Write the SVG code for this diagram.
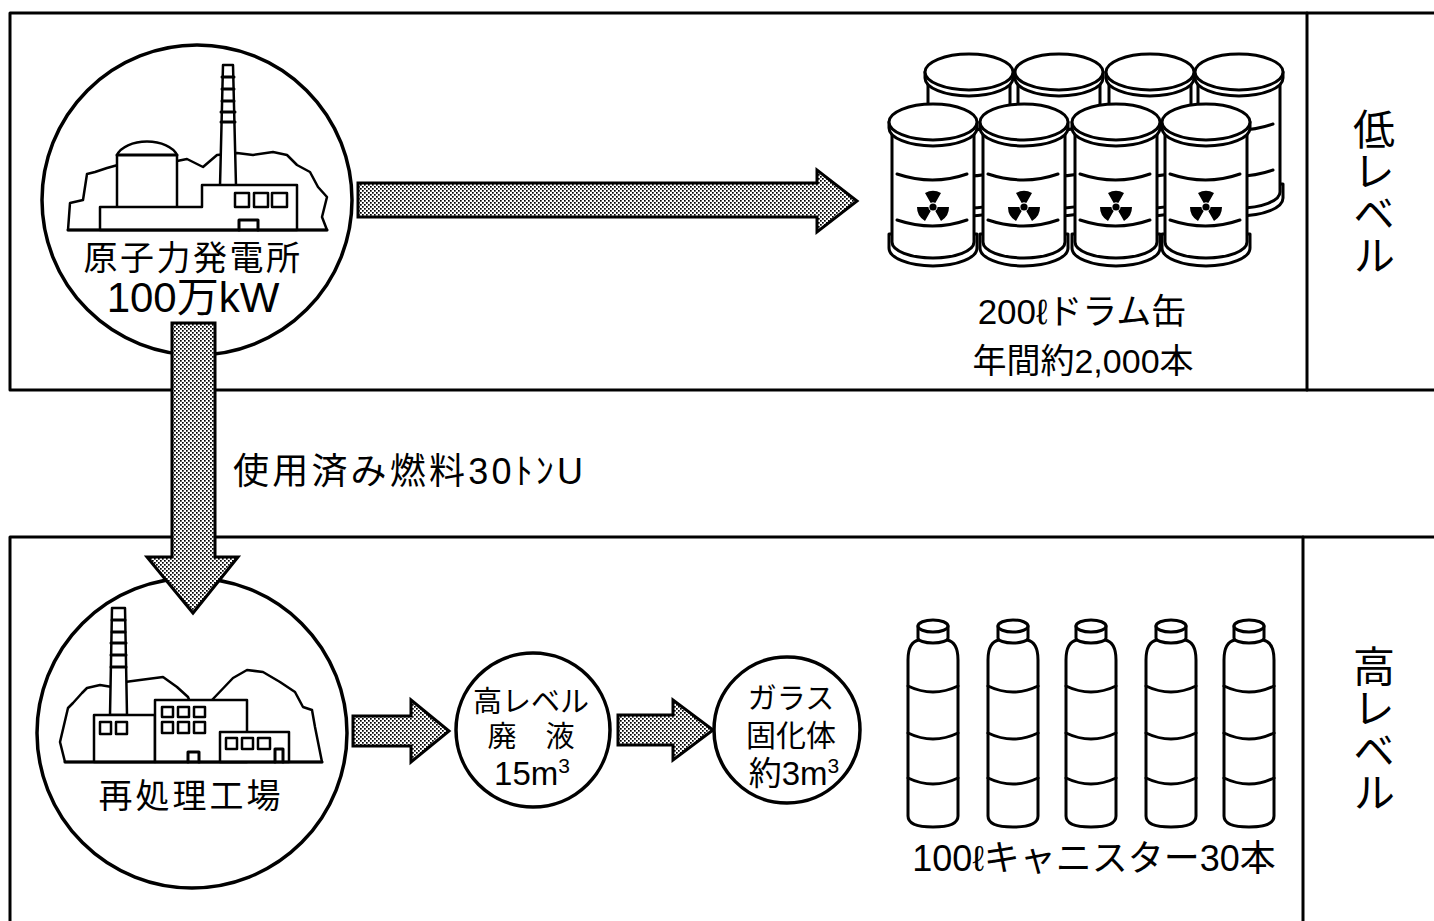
<svg xmlns="http://www.w3.org/2000/svg" width="1434" height="921" viewBox="0 0 1434 921">
  <defs>
    <style>
      .ln { fill: none; stroke: #000; stroke-width: 3; stroke-linejoin: round; stroke-linecap: round; }
      .wf { fill: #fff; stroke: #000; stroke-width: 3; stroke-linejoin: round; }
      .thin { fill: #fff; stroke: #000; stroke-width: 2.5; stroke-linejoin: round; }
      .arrow { fill: url(#dots); stroke: #000; stroke-width: 3; stroke-linejoin: miter; }
      .ring { fill: #fff; stroke: #000; stroke-width: 3.5; }
      .t { font-family: "Liberation Sans", "Noto Sans CJK JP", sans-serif; fill: #000; }
      .vt { font-family: "Noto Sans CJK JP", sans-serif; fill: #000; font-size: 42px; writing-mode: vertical-rl; }
    </style>
    <!-- stipple fill for the flow arrows -->
    <pattern id="dots" width="4" height="4" patternUnits="userSpaceOnUse">
      <rect width="4" height="4" fill="#fff"/>
      <rect x="0" y="0" width="1.7" height="1.7" fill="#000"/>
      <rect x="2" y="2" width="1.7" height="1.7" fill="#000"/>
    </pattern>
    <!-- 200 l drum, origin at the centre of the lid -->
    <g id="drum">
      <path class="wf" d="M-44,112 V126 A44,18 0 0 0 44,126 V112 Z"/>
      <path class="wf" d="M-41,6 V120 A41,16 0 0 0 41,120 V6 Z"/>
      <path class="ln" d="M-36,52 Q0,64 34,52"/>
      <path class="ln" d="M-36,98 Q0,110 34,98"/>
      <path class="wf" d="M-44,0 V6 A44,18 0 0 0 44,6 V0 Z"/>
      <ellipse class="wf" cx="0" cy="0" rx="44" ry="18"/>
    </g>
    <!-- radiation trefoil -->
    <g id="trefoil" fill="#000">
      <path d="M-8,-14 A16,16 0 0 1 8,-14 L2.3,-4 A4.6,4.6 0 0 0 -2.3,-4 Z"/>
      <path d="M16,0 A16,16 0 0 1 8,14 L2.3,4 A4.6,4.6 0 0 0 4.6,0 Z"/>
      <path d="M-8,14 A16,16 0 0 1 -16,0 L-4.6,0 A4.6,4.6 0 0 0 -2.3,4 Z"/>
      <circle r="3.6"/>
    </g>
    <!-- 100 l canister, origin at the top of the cap -->
    <g id="canister">
      <path class="wf" d="M-14,20 Q-25,22 -25,40 V196 Q-25,207 0,207 Q25,207 25,196 V40 Q25,22 14,20 Z"/>
      <path class="ln" d="M-25,66 Q0,78 25,66"/>
      <path class="ln" d="M-25,113 Q0,125 25,113"/>
      <path class="ln" d="M-25,158 Q0,170 25,158"/>
      <path class="wf" d="M-15,6 V18 A15,5 0 0 0 15,18 V6 Z"/>
      <ellipse class="wf" cx="0" cy="6" rx="15" ry="6"/>
    </g>
  </defs>

  <rect width="1434" height="921" fill="#fff"/>

  <!-- section frames -->
  <g id="frames" class="ln" stroke-linecap="square">
    <path d="M1434,13 H10 V390 H1434"/>
    <path d="M1307,13 V390"/>
    <path d="M1434,537 H10 V921"/>
    <path d="M1303,537 V921"/>
  </g>

  <!-- nuclear power station -->
  <g id="node-power-plant">
    <circle class="ring" cx="197" cy="200" r="155"/>
    <path class="thin" d="M68,230 L70,203 L83,200 L87,174 L95,172 L107,168 L125,163 L150,158 L177,161 L187,159 L203,167 L217,155 L237,153 L253,155 L273,152 L287,155 L297,165 L310,172 L318,187 L327,197 L322,217 L327,230 Z"/>
    <path class="thin" d="M117,207 V155 A31,18 0 0 1 177,155 V207"/>
    <path class="ln" stroke-width="2.5" d="M117,155 H177"/>
    <path class="thin" d="M220,186 L223,65 H233 L236,186 Z"/>
    <path class="ln" stroke-width="2.5" d="M222,77 H234 M222,89 H234 M222,101 H234 M221,112 H235 M221,122 H235"/>
    <path class="thin" d="M100,230 V207 H202 V185 H297 V230 Z"/>
    <rect class="thin" x="235" y="193" width="14" height="14"/>
    <rect class="thin" x="254" y="193" width="14" height="14"/>
    <rect class="thin" x="272" y="193" width="15" height="14"/>
    <path class="ln" stroke-width="2.5" d="M239,230 V220 H258 V230"/>
    <path class="ln" d="M68,230 H327"/>
    <text class="t" x="193" y="270" font-size="34" text-anchor="middle" letter-spacing="2.5">原子力発電所</text>
    <text class="t" x="193" y="312" font-size="42" text-anchor="middle">100万kW</text>
  </g>

  <!-- low-level waste drums -->
  <g id="node-drums">
    <use href="#drum" x="969" y="72"/>
    <use href="#drum" x="1059" y="72"/>
    <use href="#drum" x="1150" y="72"/>
    <use href="#drum" x="1239" y="72"/>
    <use href="#drum" x="933" y="122"/>
    <use href="#drum" x="1024" y="122"/>
    <use href="#drum" x="1116" y="122"/>
    <use href="#drum" x="1206" y="122"/>
    <use href="#trefoil" x="933" y="207"/>
    <use href="#trefoil" x="1024" y="207"/>
    <use href="#trefoil" x="1116" y="207"/>
    <use href="#trefoil" x="1206" y="207"/>
    <text class="t" x="1082" y="324" font-size="35" text-anchor="middle">200ℓドラム缶</text>
    <text class="t" x="1083" y="373" font-size="34" text-anchor="middle">年間約2,000本</text>
  </g>

  <!-- reprocessing plant -->
  <g id="node-reprocessing">
    <circle class="ring" cx="192" cy="733" r="155"/>
    <path class="thin" d="M65,762 L60,742 L68,708 L73,703 L82,693 L87,688 L100,685 L112,687 L125,682 L140,680 L163,677 L177,687 L188,697 L195,715 L210,715 L212,700 L233,678 L247,670 L263,672 L280,682 L295,692 L303,707 L312,710 L315,727 L322,762 Z"/>
    <path class="thin" d="M110,715 L112,608 H125 L127,715 Z"/>
    <path class="ln" stroke-width="2.5" d="M112,620 H125 M112,632 H125 M111,643 H126 M111,655 H126 M111,667 H126"/>
    <rect class="thin" x="94" y="715" width="61" height="47"/>
    <rect class="thin" x="100" y="722" width="11" height="12"/>
    <rect class="thin" x="116" y="722" width="11" height="12"/>
    <rect class="thin" x="155" y="700" width="92" height="62"/>
    <rect class="thin" x="162" y="707" width="11" height="10"/>
    <rect class="thin" x="178" y="707" width="11" height="10"/>
    <rect class="thin" x="194" y="707" width="11" height="10"/>
    <rect class="thin" x="162" y="722" width="11" height="11"/>
    <rect class="thin" x="178" y="722" width="11" height="11"/>
    <rect class="thin" x="194" y="722" width="11" height="11"/>
    <path class="ln" stroke-width="2.5" d="M188,762 V752 H199 V762"/>
    <rect class="thin" x="220" y="732" width="69" height="30"/>
    <rect class="thin" x="226" y="738" width="11" height="11"/>
    <rect class="thin" x="242" y="738" width="11" height="11"/>
    <rect class="thin" x="258" y="738" width="12" height="11"/>
    <path class="ln" stroke-width="2.5" d="M275,762 V749 H283 V762"/>
    <path class="ln" d="M65,762 H322"/>
    <text class="t" x="191" y="808" font-size="34" text-anchor="middle" letter-spacing="3">再処理工場</text>
  </g>

  <!-- high-level liquid waste -->
  <g id="node-liquid-waste">
    <circle class="ring" cx="533" cy="730" r="77"/>
    <text class="t" x="531" y="712" font-size="29" text-anchor="middle">高レベル</text>
    <text class="t" x="531" y="747" font-size="29" text-anchor="middle">廃　液</text>
    <text class="t" x="532" y="785" font-size="33" text-anchor="middle">15m<tspan font-size="21" dy="-12">3</tspan></text>
  </g>

  <!-- vitrified waste -->
  <g id="node-vitrified">
    <circle class="ring" cx="787" cy="730" r="73"/>
    <text class="t" x="791" y="709" font-size="29" text-anchor="middle">ガラス</text>
    <text class="t" x="791" y="746" font-size="30" text-anchor="middle">固化体</text>
    <text class="t" x="794" y="785" font-size="33" text-anchor="middle">約3m<tspan font-size="21" dy="-12">3</tspan></text>
  </g>

  <!-- canisters -->
  <g id="node-canisters">
    <use href="#canister" x="933" y="620"/>
    <use href="#canister" x="1013" y="620"/>
    <use href="#canister" x="1091" y="620"/>
    <use href="#canister" x="1171" y="620"/>
    <use href="#canister" x="1249" y="620"/>
    <text class="t" x="1094" y="871" font-size="36" text-anchor="middle">100ℓキャニスター30本</text>
  </g>

  <!-- level labels -->
  <g id="label-low">
    <text class="vt" x="1374" y="108">低レベル</text>
  </g>
  <g id="label-high">
    <text class="vt" x="1374" y="645">高レベル</text>
  </g>

  <!-- flow arrows -->
  <g id="connectors">
    <path class="arrow" d="M358,183 H817 V170 L857,201 L817,232 V217 H358 Z"/>
    <path class="arrow" d="M172,323 V557 H147 L193,613 L238,557 H215 V323 Z"/>
    <path class="arrow" d="M353,716 H411 V700 L449,731 L411,762 V746 H353 Z"/>
    <path class="arrow" d="M618,715 H673 V700 L713,730 L673,760 V745 H618 Z"/>
    <text class="t" x="233" y="484" font-size="36" textLength="350" lengthAdjust="spacing">使用済み燃料30ﾄﾝU</text>
  </g>
</svg>
